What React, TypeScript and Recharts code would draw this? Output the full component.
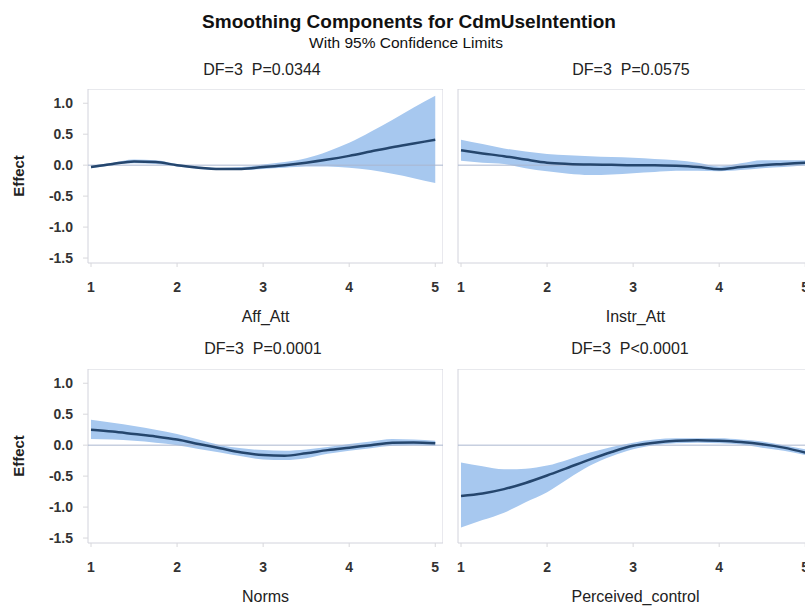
import React from 'react';
import { ComposedChart, Area, Line, XAxis, YAxis, ReferenceLine, ReferenceArea } from 'recharts';

// ---- data ----
const xValues = [1, 1.25, 1.5, 1.75, 2, 2.25, 2.5, 2.75, 3, 3.25, 3.5, 3.75, 4, 4.25, 4.5, 4.75, 5];
const xTicks = [1, 2, 3, 4, 5];
const yTicks = [-1.5, -1.0, -0.5, 0, 0.5, 1.0];

const affEffect = [-0.03, 0.02, 0.06, 0.05, 0.0, -0.04, -0.06, -0.06, -0.03, 0.0, 0.04, 0.09, 0.15, 0.22, 0.29, 0.35, 0.41];
const affLower = [-0.05, 0.0, 0.03, 0.02, -0.02, -0.06, -0.08, -0.08, -0.06, -0.04, -0.02, -0.02, -0.04, -0.08, -0.14, -0.21, -0.29];
const affUpper = [-0.01, 0.04, 0.09, 0.08, 0.02, -0.02, -0.04, -0.03, 0.01, 0.05, 0.11, 0.22, 0.36, 0.54, 0.73, 0.93, 1.12];

const instrEffect = [0.24, 0.19, 0.145, 0.09, 0.04, 0.02, 0.01, 0.005, 0.0, 0.0, -0.01, -0.03, -0.065, -0.03, 0.0, 0.02, 0.04];
const instrLower = [0.07, 0.04, 0.02, -0.05, -0.1, -0.14, -0.16, -0.15, -0.13, -0.11, -0.09, -0.09, -0.1, -0.08, -0.05, -0.03, 0.0];
const instrUpper = [0.41, 0.34, 0.27, 0.22, 0.18, 0.16, 0.145, 0.13, 0.12, 0.1, 0.08, 0.04, -0.02, 0.03, 0.08, 0.08, 0.08];

const normsEffect = [0.25, 0.22, 0.18, 0.14, 0.09, 0.02, -0.05, -0.12, -0.16, -0.17, -0.13, -0.08, -0.04, 0.0, 0.04, 0.045, 0.03];
const normsLower = [0.1, 0.09, 0.07, 0.04, 0.0, -0.06, -0.12, -0.18, -0.23, -0.24, -0.21, -0.14, -0.09, -0.05, -0.01, 0.0, -0.01];
const normsUpper = [0.41, 0.36, 0.31, 0.25, 0.18, 0.09, 0.0, -0.05, -0.08, -0.09, -0.07, -0.03, 0.02, 0.06, 0.1, 0.09, 0.07];

const pcEffect = [-0.82, -0.78, -0.71, -0.61, -0.49, -0.36, -0.23, -0.11, -0.01, 0.04, 0.07, 0.08, 0.07, 0.05, 0.015, -0.04, -0.12];
const pcLower = [-1.33, -1.21, -1.09, -0.92, -0.76, -0.54, -0.33, -0.18, -0.065, 0.0, 0.03, 0.04, 0.03, 0.01, -0.04, -0.09, -0.16];
const pcUpper = [-0.28, -0.34, -0.39, -0.38, -0.33, -0.23, -0.12, -0.03, 0.04, 0.09, 0.11, 0.11, 0.11, 0.09, 0.06, 0.0, -0.065];

const titleText = 'Smoothing Components for CdmUseIntention';
const subtitleText = 'With 95% Confidence Limits';
const panelHeaders = ['DF=3  P=0.0344', 'DF=3  P=0.0575', 'DF=3  P=0.0001', 'DF=3  P<0.0001'];
const panelLabels = ['Aff_Att', 'Instr_Att', 'Norms', 'Perceived_control'];
const yLabel = 'Effect';

const build = (eff: number[], lo: number[], hi: number[]) =>
  xValues.map((x, i) => ({ x, y: eff[i], band: [lo[i], hi[i]] }));

const panelData = [
  build(affEffect, affLower, affUpper),
  build(instrEffect, instrLower, instrUpper),
  build(normsEffect, normsLower, normsUpper),
  build(pcEffect, pcLower, pcUpper),
];

// ---- layout ----
const FONT = 'Arial, "Liberation Sans", Helvetica, sans-serif';
const X_DOMAIN: [number, number] = [0.965, 5.09];
const Y_DOMAIN: [number, number] = [-1.58, 1.23];
const FRAME_W = 355;
const FRAME_H = 174;
const Y_AXIS_W = 80;
const X_AXIS_H = 64;
const BAND = '#a7c8ef';
const LINE = '#25466d';

const frames = [
  { left: 88, top: 89 },
  { left: 458, top: 89 },
  { left: 88, top: 369 },
  { left: 458, top: 369 },
];

function Panel({ idx }: { idx: number }) {
  const f = frames[idx];
  const showY = idx % 2 === 0;
  return (
    <div style={{ position: 'absolute', left: f.left - Y_AXIS_W, top: f.top }}>
      <ComposedChart
        width={Y_AXIS_W + FRAME_W}
        height={FRAME_H + X_AXIS_H}
        data={panelData[idx]}
        margin={{ top: 0, right: 0, bottom: 0, left: showY ? 0 : Y_AXIS_W }}
      >
        <XAxis
          type="number"
          dataKey="x"
          domain={X_DOMAIN}
          ticks={xTicks}
          allowDataOverflow
          height={X_AXIS_H}
          axisLine={false}
          tickSize={4}
          tickMargin={15}
          tickLine={{ stroke: '#d8d8dc' }}
          tick={{ fontSize: 14, fontWeight: 700, fill: '#333', fontFamily: FONT }}
          label={{
            value: panelLabels[idx],
            position: 'insideBottom',
            offset: 5,
            style: { fontSize: 16, fill: '#222', fontFamily: FONT, textAnchor: 'middle' },
          }}
        />
        <YAxis
          type="number"
          domain={Y_DOMAIN}
          ticks={yTicks}
          allowDataOverflow
          hide={!showY}
          width={Y_AXIS_W}
          axisLine={false}
          tickSize={5}
          tickMargin={10}
          tickLine={{ stroke: '#d8d8dc' }}
          tickFormatter={(v: number) => v.toFixed(1)}
          tick={{ fontSize: 14, fontWeight: 700, fill: '#333', fontFamily: FONT }}
          label={{
            value: yLabel,
            angle: -90,
            position: 'insideLeft',
            offset: 11,
            style: { fontSize: 15, fontWeight: 700, fill: '#222', fontFamily: FONT, textAnchor: 'middle' },
          }}
        />
        <ReferenceArea
          x1={X_DOMAIN[0]}
          x2={X_DOMAIN[1]}
          y1={Y_DOMAIN[0]}
          y2={Y_DOMAIN[1]}
          fill="none"
          stroke="#d2d3dc"
          strokeWidth={1}
          ifOverflow="visible"
        />
        <Area
          type="monotone"
          dataKey="band"
          stroke="none"
          fill={BAND}
          fillOpacity={1}
          isAnimationActive={false}
        />
        <ReferenceLine y={0} stroke="#aab6cf" strokeWidth={1} />
        <Line
          type="monotone"
          dataKey="y"
          stroke={LINE}
          strokeWidth={2.5}
          dot={false}
          isAnimationActive={false}
        />
      </ComposedChart>
    </div>
  );
}

const textStyle: React.CSSProperties = {
  position: 'absolute',
  transform: 'translate(-50%, -50%)',
  whiteSpace: 'pre',
  lineHeight: 1,
  fontFamily: FONT,
  color: '#111',
};

const headerPos = [
  { x: 262, y: 70 },
  { x: 631, y: 70 },
  { x: 263, y: 349 },
  { x: 630, y: 349 },
];

export default function App() {
  return (
    <div
      style={{
        position: 'fixed',
        left: 0,
        top: 0,
        width: 805,
        height: 607,
        overflow: 'hidden',
        background: '#fff',
      }}
    >
      <div style={{ ...textStyle, left: 409, top: 21, fontSize: 19, fontWeight: 700 }}>{titleText}</div>
      <div style={{ ...textStyle, left: 406, top: 43, fontSize: 15.5 }}>{subtitleText}</div>
      {panelHeaders.map((h, i) => (
        <div key={h} style={{ ...textStyle, left: headerPos[i].x, top: headerPos[i].y, fontSize: 16, color: '#222' }}>
          {h}
        </div>
      ))}
      {[0, 1, 2, 3].map((i) => (
        <Panel key={i} idx={i} />
      ))}
    </div>
  );
}
